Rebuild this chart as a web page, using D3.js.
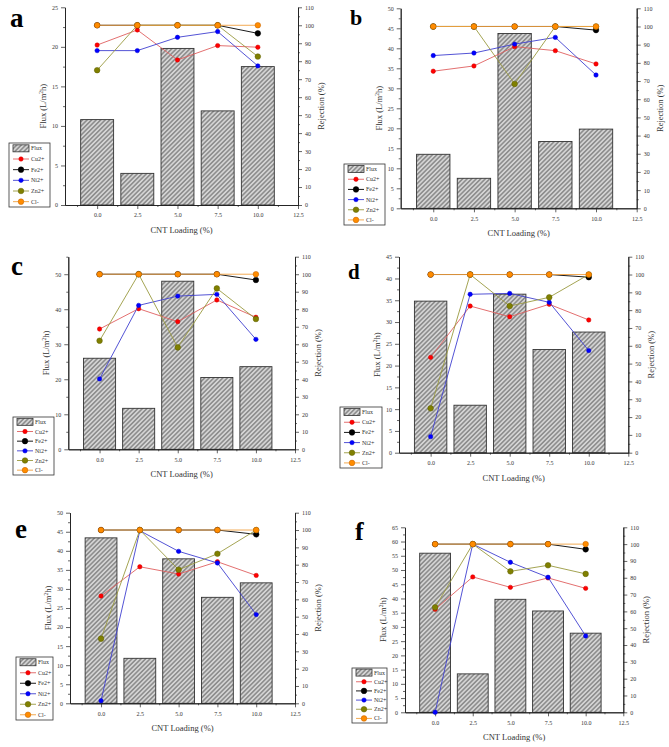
<!DOCTYPE html>
<html><head><meta charset="utf-8">
<script src="https://cdn.jsdelivr.net/npm/d3@7"></script>
<style>html,body{margin:0;padding:0;background:#fff}svg{display:block}</style>
</head><body>
<svg id="c" width="669" height="747"></svg>
<script>
// ---------- data ----------
const panelLetters = ["a","b","c","d","e","f"];
const loadings = [0, 2.5, 5, 7.5, 10];
const xTickValues = [0, 2.5, 5, 7.5, 10, 12.5];
const fluxMax = [25, 50, 55, 45, 50, 65];
const fluxStep = [5, 5, 10, 5, 5, 5];
const rejTicks = [0,10,20,30,40,50,60,70,80,90,100,110];
const flux = [
  [10.8, 4.0, 19.8, 11.9, 17.5],
  [13.5, 7.5, 43.7, 16.7, 19.8],
  [26.0, 11.7, 48.0, 20.5, 23.6],
  [34.8, 10.9, 36.4, 23.7, 27.7],
  [43.4, 11.8, 37.9, 27.8, 31.6],
  [55.9, 13.5, 39.7, 35.6, 27.8]
];
const cu = [
  [89.0, 97.4, 80.7, 88.7, 87.8],
  [75.4, 78.3, 88.9, 86.7, 79.4],
  [68.7, 80.3, 72.9, 85.3, 75.4],
  [53.5, 82.3, 76.3, 83.3, 74.5],
  [61.9, 78.8, 74.6, 81.7, 73.8],
  [61.2, 80.5, 74.3, 79.9, 73.7]
];
const fe = [
  [100, 100, 100, 100, 95.5],
  [100, 100, 100, 100, 98.0],
  [100, 100, 100, 100, 96.7],
  [100, 100, 100, 100, 98.5],
  [100, 100, 100, 100, 97.5],
  [100, 100, 100, 100, 96.9]
];
const ni = [
  [85.9, 85.9, 93.3, 96.5, 77.4],
  [84.0, 85.4, 90.3, 94.0, 73.3],
  [40.2, 82.2, 87.5, 88.5, 62.8],
  [9.0, 88.9, 89.4, 84.4, 57.3],
  [1.5, 99.6, 87.7, 81.0, 51.2],
  [0.0, 100, 89.2, 80.3, 45.4]
];
const zn = [
  [75.0, 100, 100, 100, 82.6],
  [100, 100, 68.4, 100, 100],
  [62.0, 100, 58.2, 91.9, 74.4],
  [24.9, 100, 82.3, 87.2, 100],
  [37.3, 100, 77.1, 86.3, 100],
  [62.4, 100, 83.8, 87.4, 82.3]
];
const cl = [
  [100, 100, 100, 100, 100],
  [100, 100, 100, 100, 100],
  [100, 100, 100, 100, 100],
  [100, 100, 100, 100, 100],
  [100, 100, 100, 100, 100],
  [100, 100, 100, 100, 100]
];
const seriesNames = ["Cu2+", "Fe2+", "Ni2+", "Zn2+", "Cl-"];
const seriesData = [cu, fe, ni, zn, cl];

// ---------- layout / style ----------
const layout = [
  {L:65,  R:298, T:7.3,  B:205,   lx:10,  ly:27,  lf:27, leg:[9,143,41,64]},
  {L:400.7,R:636.7,T:8.3,B:208.3, lx:350, ly:25,  lf:22, leg:[344,164,41,61]},
  {L:68.3,R:295, T:256.7,B:449.3, lx:11,  ly:275, lf:27, leg:[13,417,41,58]},
  {L:399, R:628.3,T:256.7,B:452.7,lx:348, ly:279, lf:21, leg:[340,407,42,61]},
  {L:70,  R:295, T:512.7,B:703.3, lx:15,  ly:538, lf:27, leg:[16,657,37,63]},
  {L:405, R:623.3,T:527.3,B:712.3,lx:355, ly:540, lf:26, leg:[352,668,35,55]}
];
const styles = [
  {line:"#e06060", fill:"#ff0000", stroke:"#d00000", r:2.2},
  {line:"#000000", fill:"#000000", stroke:"#000000", r:2.8},
  {line:"#4040d0", fill:"#0000ff", stroke:"#0000d0", r:2.2},
  {line:"#9a9a40", fill:"#808000", stroke:"#5e5e00", r:2.8},
  {line:"#f0a040", fill:"#ff8c00", stroke:"#c06000", r:2.8}
];
const FONT = "'Liberation Serif','DejaVu Serif',serif";

const svg = d3.select("#c");
const defs = svg.append("defs");
const pat = defs.append("pattern").attr("id","hatch").attr("patternUnits","userSpaceOnUse")
  .attr("width",3.2).attr("height",3.2).attr("patternTransform","rotate(-45)");
pat.append("rect").attr("width",3.2).attr("height",3.2).attr("fill","#8e8e8e");
pat.append("line").attr("x1",0).attr("y1",0.8).attr("x2",3.2).attr("y2",0.8)
  .attr("stroke","#ffffff").attr("stroke-width",1.0);

function styleAxis(g){
  g.selectAll("path.domain").attr("stroke","#222").attr("stroke-width",0.9);
  g.selectAll(".tick line").attr("stroke","#222").attr("stroke-width",0.7);
  g.selectAll(".tick text").attr("font-family",FONT).attr("font-size",6).attr("fill","#333");
}

panelLetters.forEach((letter, p) => {
  const lo = layout[p];
  const x = d3.scaleLinear().domain([-2, 12.5]).range([lo.L, lo.R]);
  const yL = d3.scaleLinear().domain([0, fluxMax[p]]).range([lo.B, lo.T]);
  const yR = d3.scaleLinear().domain([0, 110]).range([lo.B, lo.T]);
  const g = svg.append("g");
  const bw = x(2.05) - x(0);

  // bars
  g.selectAll("rect.bar").data(loadings.map((d,i)=>({x:d, v:flux[p][i]}))).enter()
    .append("rect").attr("class","bar")
    .attr("x", d => x(d.x) - bw/2).attr("width", bw)
    .attr("y", d => yL(d.v)).attr("height", d => yL(0) - yL(d.v))
    .attr("fill","url(#hatch)").attr("stroke","#333").attr("stroke-width",0.9);

  // axes
  const minorX = xTickValues.map(v => v - 1.25);
  const gx = g.append("g").attr("transform",`translate(0,${lo.B})`)
    .call(d3.axisBottom(x).tickValues(xTickValues).tickFormat(d3.format(".1f")).tickSize(4).tickSizeOuter(0).tickPadding(4));
  styleAxis(gx);
  const gxm = g.append("g").attr("transform",`translate(0,${lo.B})`)
    .call(d3.axisBottom(x).tickValues(minorX).tickFormat("").tickSize(2).tickSizeOuter(0));
  styleAxis(gxm);

  const lt = d3.range(0, fluxMax[p] + 0.001, fluxStep[p]);
  const gl = g.append("g").attr("transform",`translate(${lo.L},0)`)
    .call(d3.axisLeft(yL).tickValues(lt).tickSize(4).tickSizeOuter(0).tickPadding(3));
  styleAxis(gl);
  const ltm = d3.range(fluxStep[p]/2, fluxMax[p] + 0.001, fluxStep[p]);
  const glm = g.append("g").attr("transform",`translate(${lo.L},0)`)
    .call(d3.axisLeft(yL).tickValues(ltm).tickFormat("").tickSize(2).tickSizeOuter(0));
  styleAxis(glm);

  const gr = g.append("g").attr("transform",`translate(${lo.R},0)`)
    .call(d3.axisRight(yR).tickValues(rejTicks).tickSize(4).tickSizeOuter(0).tickPadding(3));
  styleAxis(gr);
  const grm = g.append("g").attr("transform",`translate(${lo.R},0)`)
    .call(d3.axisRight(yR).tickValues(rejTicks.slice(0,-1).map(v=>v+5)).tickFormat("").tickSize(2).tickSizeOuter(0));
  styleAxis(grm);

  // lines
  const line = d3.line().x(d => x(d.x)).y(d => yR(d.v));
  seriesData.forEach((ser, s) => {
    const pts = loadings.map((d,i)=>({x:d, v:ser[p][i]}));
    const st = styles[s];
    g.append("path").datum(pts).attr("d", line).attr("fill","none")
      .attr("stroke", st.line).attr("stroke-width", 0.9);
    g.selectAll(null).data(pts).enter().append("circle")
      .attr("cx", d => x(d.x)).attr("cy", d => yR(d.v)).attr("r", st.r)
      .attr("fill", st.fill).attr("stroke", st.stroke).attr("stroke-width", 0.5);
  });

  // titles
  const cy = (lo.T + lo.B) / 2;
  const lt1 = g.append("text").attr("transform",`translate(${lo.L-19},${cy}) rotate(-90)`)
    .attr("text-anchor","middle").attr("font-family",FONT).attr("font-size",8.5).attr("fill","#333");
  lt1.append("tspan").text("Flux (L/m");
  lt1.append("tspan").attr("font-size",5.5).attr("dy",-3).text("2");
  lt1.append("tspan").attr("dy",3).text("h)");
  g.append("text").attr("transform",`translate(${lo.R+26},${cy}) rotate(-90)`)
    .attr("text-anchor","middle").attr("font-family",FONT).attr("font-size",8.5).attr("fill","#333")
    .text("Rejection (%)");
  g.append("text").attr("x",(lo.L+lo.R)/2).attr("y",lo.B+28).attr("text-anchor","middle")
    .attr("font-family",FONT).attr("font-size",8.5).attr("fill","#333").text("CNT Loading (%)");
  g.append("text").attr("x",lo.lx).attr("y",lo.ly).attr("font-family",FONT)
    .attr("font-weight","bold").attr("font-size",lo.lf).attr("fill","#000").text(letter);

  // legend
  const [bx, by, bW, bH] = lo.leg;
  const rowH = bH / 6;
  g.append("rect").attr("x",bx).attr("y",by).attr("width",bW).attr("height",bH)
    .attr("fill","#fff").attr("stroke","#333").attr("stroke-width",0.8);
  const sx0 = bx + 4, sx1 = bx + 20;
  g.append("rect").attr("x",sx0).attr("y",by + rowH*0.5 - 3.5).attr("width",sx1-sx0).attr("height",7)
    .attr("fill","url(#hatch)").attr("stroke","#333").attr("stroke-width",0.8);
  g.append("text").attr("x",sx1+2).attr("y",by + rowH*0.5 + 2).attr("font-family",FONT)
    .attr("font-size",6).attr("fill","#333").text("Flux");
  seriesNames.forEach((nm, s) => {
    const yy = by + rowH*(s+1.5);
    const st = styles[s];
    g.append("line").attr("x1",sx0).attr("x2",sx1).attr("y1",yy).attr("y2",yy)
      .attr("stroke",st.line).attr("stroke-width",0.9);
    g.append("circle").attr("cx",(sx0+sx1)/2).attr("cy",yy).attr("r",st.r)
      .attr("fill",st.fill).attr("stroke",st.stroke).attr("stroke-width",0.5);
    g.append("text").attr("x",sx1+2).attr("y",yy+2).attr("font-family",FONT)
      .attr("font-size",6).attr("fill","#333").text(nm);
  });
});
</script>
</body></html>
